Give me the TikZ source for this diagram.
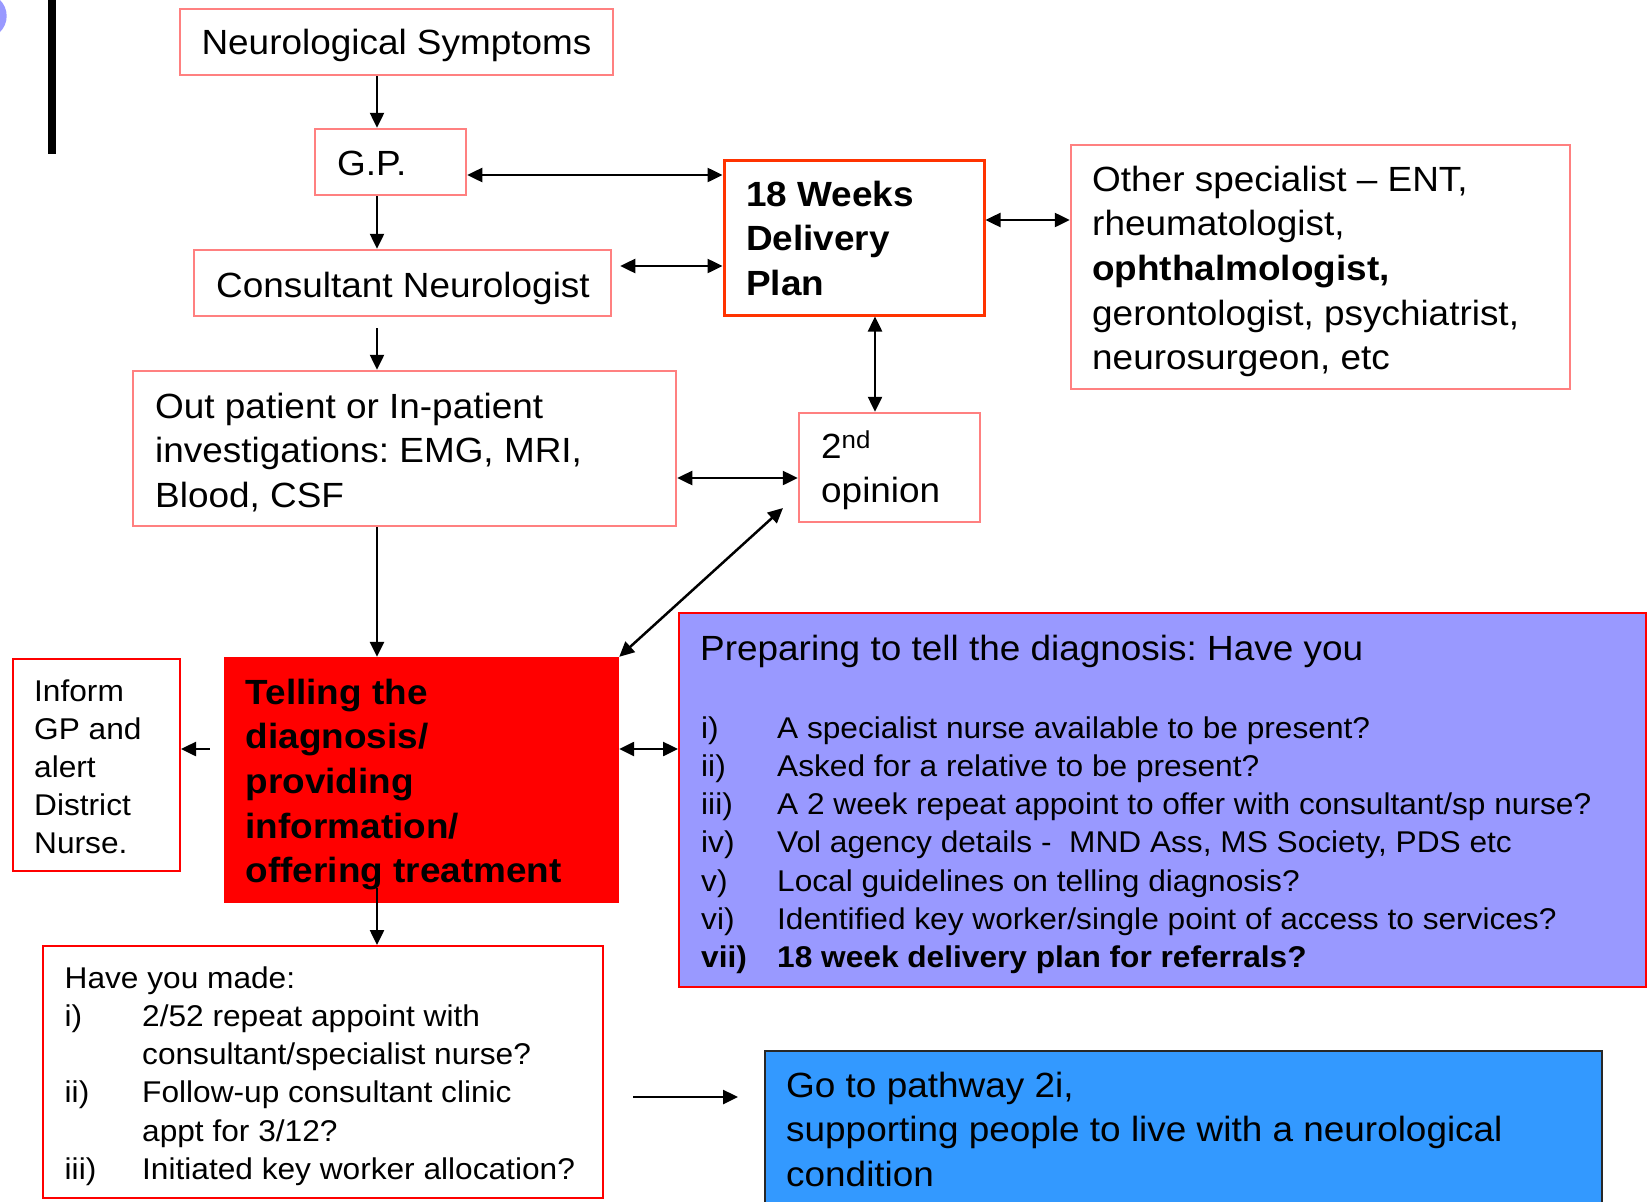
\documentclass[tikz,border=0pt]{standalone}
\usepackage{fontspec}
\setmainfont{Liberation Sans}[FakeStretch=1.055]
\usetikzlibrary{arrows.meta,fit,calc}
\definecolor{pinkline}{RGB}{255,128,128}
\definecolor{dpline}{RGB}{255,51,0}
\definecolor{prepfill}{RGB}{153,153,255}
\definecolor{gofill}{RGB}{51,153,255}
\definecolor{goline}{RGB}{40,40,40}
\newcommand{\bigtxt}{\fontsize{35}{44.7}\selectfont}
\newcommand{\smalltxt}{\fontsize{30}{38.3}\selectfont}
\frenchspacing
\begin{document}
\begin{tikzpicture}[x=1pt,y=-1pt,
  box/.style={draw=pinkline, line width=2.5pt, inner sep=0pt},
  redbox/.style={draw=red, line width=2pt, inner sep=0pt},
  txt/.style={anchor=base west, inner sep=0pt, align=left, font=\bigtxt},
  stxt/.style={anchor=base west, inner sep=0pt, align=left, font=\smalltxt},
  arr/.style={line width=2.5pt, -{Triangle[length=15pt,width=14pt]}},
  arr2/.style={line width=2.5pt, {Triangle[length=15pt,width=14pt]}-{Triangle[length=15pt,width=14pt]}}]
\useasboundingbox (0,0) rectangle (1647,1202);
\clip (0,0) rectangle (1647,1202);
% decorations at top left
\fill[prepfill] (-15.8,16) circle (22.5pt);
\fill[black] (48.3,0) rectangle (55.7,153.7);
% boxes
\node[box, fit={(180,9) (613,75)}] (ns) {};
\node[box, fit={(315,129) (466,195)}] (gp) {};
\node[box, fit={(194,250) (611,316)}] (cn) {};
\node[draw=dpline, line width=3pt, inner sep=0pt, fit={(724,160) (984,315)}] (dp) {};
\node[box, fit={(1071,145) (1570,389)}] (other) {};
\node[box, fit={(799,413) (980,522)}] (op) {};
\node[box, fit={(133,371) (676,526)}] (inv) {};
\node[fill=red, inner sep=0pt, fit={(224,657) (619,903)}] (tell) {};
\node[redbox, fit={(13,659) (180,871)}] (inform) {};
\node[redbox, fill=prepfill, fit={(679,613) (1646,987)}] (prep) {};
\node[redbox, fit={(43,946) (603,1198)}] (hym) {};
\node[draw=goline, line width=2pt, fill=gofill, inner sep=0pt, fit={(765,1051) (1602,1240)}] (go) {};
% texts (multi-line nodes are placed by the baseline of their last line)
\node[anchor=base, inner sep=0pt, font=\bigtxt] (tns) at (396.5,54) {Neurological Symptoms};
\node[txt] (tgp) at (337,175) {G.P.};
\node[anchor=base, inner sep=0pt, font=\bigtxt] (tcn) at (403,297) {Consultant Neurologist};
\node[txt, font=\bigtxt\bfseries] (tdp) at (746,295.4) {18 Weeks\\Delivery\\Plan};
\node[txt] (tother) at (1092,369.8) {Other specialist – ENT,\\rheumatologist,\\\textbf{ophthalmologist,}\\gerontologist, psychiatrist,\\neurosurgeon, etc};
\node[txt] (top) at (821,502.7) {2\textsuperscript{nd}\\opinion};
\node[txt] (tinv) at (155,507.4) {Out patient or In-patient\\investigations: EMG, MRI,\\Blood, CSF};
\node[txt, font=\bigtxt\bfseries] (ttell) at (245.5,882.8) {Telling the\\diagnosis/\\providing\\information/\\offering treatment};
\node[stxt, font=\fontsize{30}{38}\selectfont] (tinform) at (34,853) {Inform\\GP and\\alert\\District\\Nurse.};
\node[txt] (tprep) at (700,660) {Preparing to tell the diagnosis: Have you};
\node[stxt] (tprepl) at (701,738) {\begin{tabular}[t]{@{}p{76pt}@{}l@{}}
i) & A specialist nurse available to be present?\\
ii) & Asked for a relative to be present?\\
iii) & A 2 week repeat appoint to offer with consultant/sp nurse?\\
iv) & Vol agency details -\ \ MND Ass, MS Society, PDS etc\\
v) & Local guidelines on telling diagnosis?\\
vi) & Identified key worker/single point of access to services?\\
\textbf{vii)} & \textbf{18 week delivery plan for referrals?}
\end{tabular}};
\node[stxt] (thym) at (64.5,988) {\begin{tabular}[t]{@{}p{77.5pt}@{}l@{}}
\multicolumn{2}{@{}l@{}}{Have you made:}\\
i) & 2/52 repeat appoint with\\
 & consultant/specialist nurse?\\
ii) & Follow-up consultant clinic\\
 & appt for 3/12?\\
iii) & Initiated key worker allocation?
\end{tabular}};
\node[txt] (tgo) at (786,1186.4) {Go to pathway 2i,\\supporting people to live with a neurological\\condition};
% connectors
\coordinate (cx) at (377,0);
\coordinate (ya) at (0,175);
\coordinate (yb) at (0,266);
\coordinate (yc) at (0,220);
\coordinate (xd) at (875,0);
\coordinate (ye) at (0,478);
\coordinate (yf) at (0,749);
\coordinate (yg) at (0,1097);
\coordinate (diag) at (783,508);
\draw[arr] (ns.south -| cx) -- (gp.north -| cx);
\draw[arr] (gp.south -| cx) -- (cn.north -| cx);
\draw[arr2] (gp.east |- ya) -- (dp.west |- ya);
\draw[arr2, shorten <=8pt] (cn.east |- yb) -- (dp.west |- yb);
\draw[arr2] (dp.east |- yc) -- (other.west |- yc);
\draw[arr2] (dp.south -| xd) -- (op.north -| xd);
\draw[arr, shorten <=11pt] (cn.south -| cx) -- (inv.north -| cx);
\draw[arr2] (inv.east |- ye) -- (op.west |- ye);
\draw[arr2] (tell.north east) -- (diag);
\draw[arr] (inv.south -| cx) -- (tell.north -| cx);
\draw[arr, shorten <=14pt] (tell.west |- yf) -- (inform.east |- yf);
\draw[arr2] (tell.east |- yf) -- (prep.west |- yf);
\draw[arr, shorten <=-15pt] (tell.south -| cx) -- (hym.north -| cx);
\draw[arr, shorten <=29pt, shorten >=26pt] (hym.east |- yg) -- (go.west |- yg);
\end{tikzpicture}
\end{document}
